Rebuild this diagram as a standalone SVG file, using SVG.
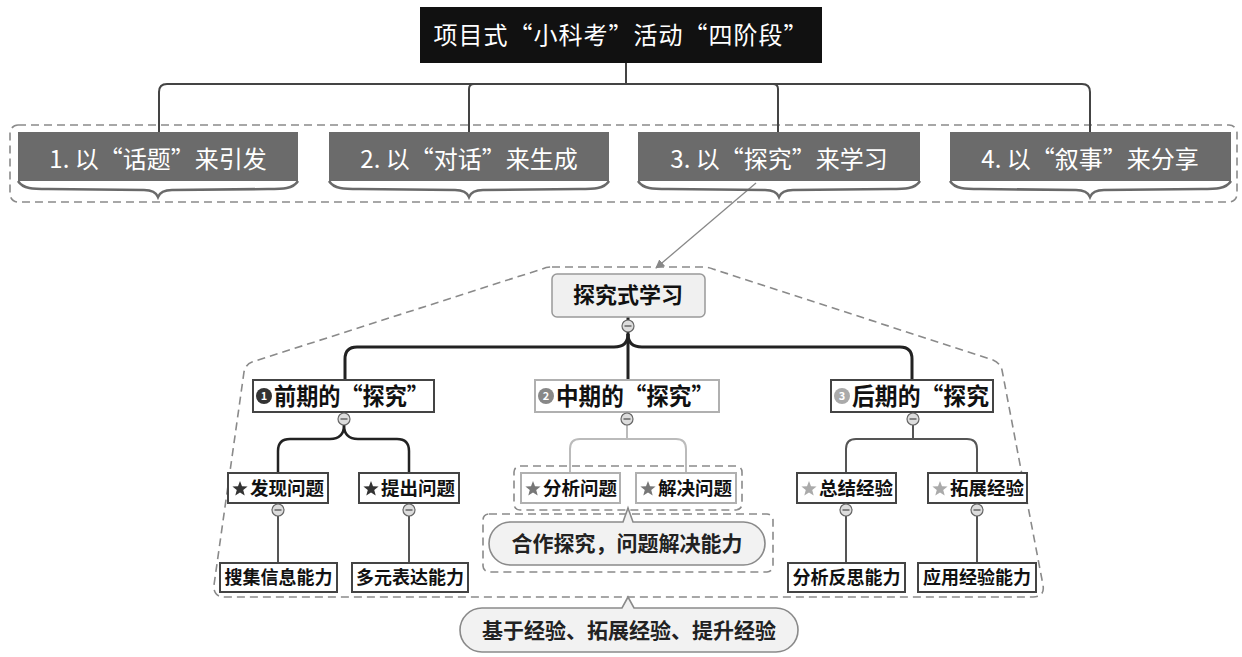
<svg xmlns="http://www.w3.org/2000/svg" xmlns:xlink="http://www.w3.org/1999/xlink" width="1242" height="657" viewBox="0 0 1242 657">
<style>
.t{font-family:"Noto Sans CJK SC","Noto Sans",sans-serif}
.top{font-size:24px;fill:#fff;text-anchor:middle}
.l1{font-size:24px;font-weight:bold;fill:#111}
.l2{font-size:18.5px;font-weight:bold;fill:#111}
.l3{font-size:18px;font-weight:bold;fill:#111;text-anchor:middle}
.call{font-size:21px;font-weight:bold;fill:#222;text-anchor:middle}
.dash{fill:none;stroke:#8a8a8a;stroke-width:1.6;stroke-dasharray:8 5}
.gbox{fill:#6b6b6b}
.brace{fill:none;stroke:#6a6a6a;stroke-width:2.5}
.wbox{fill:#fff;stroke:#444;stroke-width:2}
.wboxl{fill:#fff;stroke:#b0b0b0;stroke-width:2}
.pill{fill:#f2f2f2;stroke:#8a8a8a;stroke-width:1.6}
.col{fill:#ddd;stroke:#666;stroke-width:1.2}
.num{font-size:11px;font-weight:bold;fill:#fff;text-anchor:middle}
</style>
<defs>
<polygon id="star" points="0,-8 2,-2.75 7.61,-2.47 3.23,1.05 4.7,6.47 0,3.4 -4.7,6.47 -3.23,1.05 -7.61,-2.47 -2,-2.75"/>
<g id="colbtn"><circle class="col" r="6"/><line x1="-3.5" y1="0" x2="3.5" y2="0" stroke="#666" stroke-width="1.5"/></g>
<marker id="arr" viewBox="0 0 10 10" refX="9" refY="5" markerWidth="9" markerHeight="9" orient="auto" markerUnits="userSpaceOnUse"><path d="M0,0 L10,5 L0,10 Z" fill="#888"/></marker>
</defs>
<rect width="1242" height="657" fill="#fff"/>

<!-- dashed frames -->
<g id="frames">
<rect class="dash" x="10" y="125" width="1227" height="77" rx="8"/>
<path class="dash" d="M552,267 L703,267 Q708,267 713,269 L993,360 Q1000,363 1002,370 L1043,585 Q1045,597 1033,597 L225,597 Q213,597 214,585 L244,372 Q246,364 252,362 L542,269 Q547,267 552,267 Z"/>
<rect class="dash" x="514" y="466" width="228" height="44" rx="6"/>
<rect class="dash" x="483" y="514" width="290" height="58" rx="6"/>
</g>

<!-- connectors -->
<g id="connectors" fill="none">
<g stroke="#444" stroke-width="2">
<path d="M626,63 L626,84"/>
<path d="M159,132 L159,92 Q159,84 167,84 L1082,84 Q1090,84 1090,92 L1090,132"/>
<path d="M469,132 L469,89 Q469,84 474,84"/>
<path d="M778,132 L778,89 Q778,84 773,84"/>
</g>
<line x1="756" y1="183" x2="656" y2="268" stroke="#888" stroke-width="1.3" marker-end="url(#arr)"/>
<g stroke="#222" stroke-width="3">
<path d="M628,317 L628,380"/>
<path d="M628,334 Q628,347 614,347 L357,347 Q345,347 345,359 L345,380"/>
<path d="M628,334 Q628,347 642,347 L900,347 Q912,347 912,359 L912,380"/>
</g>
<g stroke="#222" stroke-width="2.5">
<path d="M344,425 Q344,439 330,439 L290,439 Q278,439 278,451 L278,473"/>
<path d="M344,425 Q344,439 358,439 L397,439 Q409,439 409,451 L409,473"/>
</g>
<g stroke="#bbb" stroke-width="2">
<path d="M627,425 L627,439"/>
<path d="M570,473 L570,449 Q570,439 580,439 L676,439 Q686,439 686,449 L686,473"/>
</g>
<g stroke="#555" stroke-width="2">
<path d="M913,425 L913,439"/>
<path d="M846,473 L846,449 Q846,439 856,439 L967,439 Q977,439 977,449 L977,473"/>
<path d="M278,516 L278,563"/>
<path d="M409,516 L409,563"/>
<path d="M846,516 L846,563"/>
<path d="M977,516 L977,563"/>
</g>
</g>

<!-- title -->
<g id="title">
<rect x="420" y="7" width="402" height="56" fill="#111"/>
<text class="t top" x="621" y="44" letter-spacing="1">项目式“小科考”活动“四阶段”</text>
</g>

<!-- stage boxes -->
<g id="stage1">
<rect class="gbox" x="18" y="132" width="280" height="49"/>
<path class="brace" d="M18,181 C23,189 33,189 48,189 L144,190 C152,190 156,192 158,197 C160,192 164,190 172,190 L268,189 C283,189 293,189 298,181"/>
<text class="t top" x="158" y="168">1. 以“话题”来引发</text>
</g>
<g id="stage2">
<rect class="gbox" x="329" y="132" width="280" height="49"/>
<path class="brace" d="M329,181 C334,189 344,189 359,189 L455,190 C463,190 467,192 469,197 C471,192 475,190 483,190 L579,189 C594,189 604,189 609,181"/>
<text class="t top" x="469" y="168">2. 以“对话”来生成</text>
</g>
<g id="stage3">
<rect class="gbox" x="638" y="132" width="282" height="49"/>
<path class="brace" d="M638,181 C643,189 653,189 668,189 L765,190 C773,190 777,192 779,197 C781,192 785,190 793,190 L890,189 C905,189 915,189 920,181"/>
<text class="t top" x="779" y="168">3. 以“探究”来学习</text>
</g>
<g id="stage4">
<rect class="gbox" x="950" y="132" width="281" height="49"/>
<path class="brace" d="M950,181 C955,189 965,189 980,189 L1076,190 C1084,190 1088,192 1090,197 C1092,192 1096,190 1104,190 L1201,189 C1216,189 1226,189 1231,181"/>
<text class="t top" x="1090" y="168">4. 以“叙事”来分享</text>
</g>

<!-- inquiry root -->
<g id="inquiry">
<rect x="552" y="274" width="153" height="43" rx="5" fill="#f0f0f0" stroke="#999" stroke-width="1.5"/>
<text class="t" x="628" y="303" font-size="22" font-weight="bold" fill="#111" text-anchor="middle">探究式学习</text>
</g>

<!-- level 1 -->
<g id="early">
<rect class="wbox" x="253" y="380" width="181" height="32"/>
<circle cx="264" cy="396" r="8" fill="#333"/><text class="t num" x="264" y="400">1</text>
<text class="t l1" x="274" y="405" textLength="155" lengthAdjust="spacingAndGlyphs">前期的“探究”</text>
</g>
<g id="middle">
<rect class="wboxl" x="535" y="380" width="184" height="32"/>
<circle cx="546" cy="396" r="8" fill="#888"/><text class="t num" x="546" y="400">2</text>
<text class="t l1" x="556" y="405" textLength="158" lengthAdjust="spacingAndGlyphs">中期的“探究”</text>
</g>
<g id="late">
<rect class="wbox" x="831" y="380" width="162" height="32" stroke="#555"/>
<circle cx="842" cy="396" r="8" fill="#aaa"/><text class="t num" x="842" y="400">3</text>
<text class="t l1" x="852" y="405" textLength="137" lengthAdjust="spacingAndGlyphs">后期的“探究</text>
</g>

<!-- level 2 -->
<g id="find">
<rect class="wbox" x="228" y="473" width="100" height="30"/>
<use href="#star" x="240" y="489" fill="#333"/>
<text class="t l2" x="250" y="495">发现问题</text>
</g>
<g id="raise">
<rect class="wbox" x="359" y="473" width="100" height="30"/>
<use href="#star" x="371" y="489" fill="#333"/>
<text class="t l2" x="381" y="495">提出问题</text>
</g>
<g id="analyze">
<rect class="wboxl" x="521" y="473" width="99" height="30"/>
<use href="#star" x="533" y="489" fill="#777"/>
<text class="t l2" x="543" y="495">分析问题</text>
</g>
<g id="solve">
<rect class="wboxl" x="636" y="473" width="100" height="30"/>
<use href="#star" x="648" y="489" fill="#777"/>
<text class="t l2" x="658" y="495">解决问题</text>
</g>
<g id="summarize">
<rect class="wbox" x="797" y="473" width="99" height="30"/>
<use href="#star" x="809" y="489" fill="#aaa"/>
<text class="t l2" x="819" y="495">总结经验</text>
</g>
<g id="expand">
<rect class="wbox" x="928" y="473" width="99" height="30"/>
<use href="#star" x="940" y="489" fill="#aaa"/>
<text class="t l2" x="950" y="495">拓展经验</text>
</g>

<!-- level 3 -->
<g id="collect"><rect class="wbox" x="220" y="563" width="117" height="29"/><text class="t l3" x="278.5" y="584">搜集信息能力</text></g>
<g id="express"><rect class="wbox" x="352" y="563" width="116" height="29"/><text class="t l3" x="410" y="584">多元表达能力</text></g>
<g id="reflect"><rect class="wbox" x="788" y="563" width="117" height="29"/><text class="t l3" x="846.5" y="584">分析反思能力</text></g>
<g id="apply"><rect class="wbox" x="918" y="563" width="118" height="29"/><text class="t l3" x="977" y="584">应用经验能力</text></g>

<!-- collapse buttons -->
<g id="buttons">
<use href="#colbtn" x="628" y="326"/>
<use href="#colbtn" x="344" y="419"/>
<use href="#colbtn" x="627" y="419"/>
<use href="#colbtn" x="913" y="419"/>
<use href="#colbtn" x="278" y="510"/>
<use href="#colbtn" x="409" y="510"/>
<use href="#colbtn" x="846" y="510"/>
<use href="#colbtn" x="977" y="510"/>
</g>

<!-- callouts -->
<g id="callout-mid">
<path class="pill" d="M510.5,522 L623,522 L628,508 L633,522 L743.5,522 A21.5,21.5 0 0 1 743.5,565 L510.5,565 A21.5,21.5 0 0 1 510.5,522 Z"/>
<text class="t call" x="627" y="551">合作探究，问题解决能力</text>
</g>
<g id="callout-bottom">
<path class="pill" d="M482,608 L622,608 L628,597 L634,608 L776,608 A22,22 0 0 1 776,652 L482,652 A22,22 0 0 1 482,608 Z"/>
<text class="t call" x="629" y="638">基于经验、拓展经验、提升经验</text>
</g>
</svg>
